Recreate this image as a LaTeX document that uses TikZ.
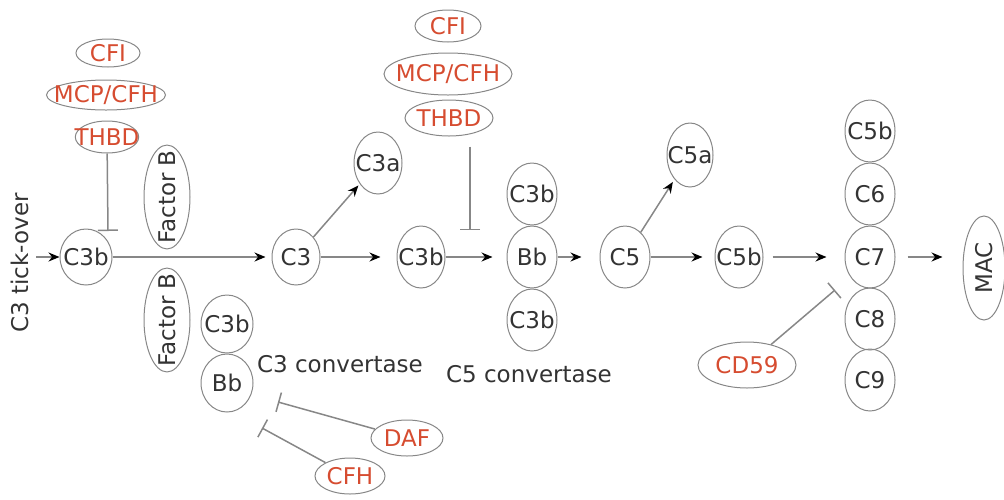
\documentclass[tikz,border=0pt]{standalone}
\usepackage{fontspec}
\setmainfont{DejaVu Sans}
\usepackage{tikz}
\usetikzlibrary{shapes,arrows.meta}
\definecolor{regred}{RGB}{214,76,48}
\definecolor{linegray}{RGB}{135,135,135}
\tikzstyle{prot}=[ellipse,draw=linegray,line width=1pt,inner xsep=-10pt,inner ysep=0pt,text=black!80]
\tikzstyle{reg}=[prot,text=regred]
\tikzstyle{arrow}=[-{Stealth[length=11pt,width=9pt,black]},line width=1.5pt,draw=linegray]
\tikzstyle{inhibit}=[-{Bar[width=20pt]},line width=1.5pt,draw=linegray]

\begin{document}
\begin{tikzpicture}[y=-1pt, x=1pt,font=\fontsize{23}{27}\selectfont]

	\useasboundingbox (0,0) rectangle (1004,499);

	%tick-over
	\node[text=black!80,rotate=90] (tick) at (20,263) {C3 tick-over};
	\node[prot,minimum width=52pt,minimum height=56pt] (c3b1) at (86,257) {C3b};

	\node[reg,minimum width=64pt,minimum height=28pt] (cfi1) at (108,53) {CFI};
	\node[reg,minimum width=118pt,minimum height=30pt] (mcp1) at (106,95) {MCP/CFH};
	\node[reg,minimum width=62pt,minimum height=32pt] (thbd1) at (107,137) {THBD};
	\coordinate (inh1) at (108,231);

	\node[prot,rotate=90,minimum width=100pt,minimum height=46pt] (fbup) at (167,197) {Factor B};
	\node[prot,rotate=90,minimum width=100pt,minimum height=46pt] (fblo) at (167,320) {Factor B};

	% C3 convertase
	\node[prot,minimum width=52pt,minimum height=58pt] (c3bcv) at (227,324) {C3b};
	\node[prot,minimum width=52pt,minimum height=58pt] (bbcv) at (227,383) {Bb};
	\node[text=black!80] (cv3) at (340,364) {C3 convertase};
	\node[reg,minimum width=72pt,minimum height=36pt] (daf) at (407,438) {DAF};
	\node[reg,minimum width=70pt,minimum height=36pt] (cfh) at (350,476) {CFH};
	\coordinate (inhdaf) at (278,402);
	\coordinate (inhcfh) at (262,428);

	\node[prot,minimum width=48pt,minimum height=56pt] (c3) at (296,257) {C3};
	\node[prot,minimum width=48pt,minimum height=62pt] (c3a) at (378,163) {C3a};
	\node[prot,minimum width=48pt,minimum height=62pt] (c3b2) at (421,257) {C3b};

	\node[reg,minimum width=66pt,minimum height=32pt] (cfi2) at (448,26) {CFI};
	\node[reg,minimum width=128pt,minimum height=42pt] (mcp2) at (448,74) {MCP/CFH};
	\node[reg,minimum width=88pt,minimum height=36pt] (thbd2) at (449,118) {THBD};
	\coordinate (inh2) at (470,230);

	% C5 convertase
	\node[prot,minimum width=50pt,minimum height=62pt] (c3bup) at (532,194) {C3b};
	\node[prot,minimum width=50pt,minimum height=62pt] (bb) at (532,257) {Bb};
	\node[prot,minimum width=50pt,minimum height=62pt] (c3bdn) at (532,320) {C3b};
	\node[text=black!80] (cv5) at (529,374) {C5 convertase};

	\node[prot,minimum width=50pt,minimum height=62pt] (c5) at (625,257) {C5};
	\node[prot,minimum width=46pt,minimum height=64pt] (c5a) at (690,155) {C5a};
	\node[prot,minimum width=48pt,minimum height=62pt] (c5b) at (739,257) {C5b};

	% MAC
	\node[prot,minimum width=50pt,minimum height=62pt] (c5bm) at (870,131) {C5b};
	\node[prot,minimum width=50pt,minimum height=62pt] (c6) at (870,194) {C6};
	\node[prot,minimum width=50pt,minimum height=62pt] (c7) at (870,257) {C7};
	\node[prot,minimum width=50pt,minimum height=62pt] (c8) at (870,319) {C8};
	\node[prot,minimum width=50pt,minimum height=62pt] (c9) at (870,380) {C9};
	\node[prot,rotate=90,minimum width=104pt,minimum height=42pt] (mac) at (984,268) {MAC};
	\node[reg,minimum width=98pt,minimum height=46pt] (cd59) at (747,365) {CD59};
	\coordinate (inhcd) at (835,290);

	%arrows
	\draw[arrow,shorten <=4pt] (tick.south |- c3b1) -- (c3b1);
	\draw[arrow,shorten >=6pt] (c3b1) -- (c3);
	\draw[arrow,shorten >=2pt] (c3) -- (c3a);
	\draw[arrow,shorten >=16pt] (c3) -- (c3b2);
	\draw[arrow,shorten >=14pt] (c3b2) -- (bb);
	\draw[arrow,shorten >=18pt] (bb) -- (c5);
	\draw[arrow,shorten >=3pt] (c5) -- (c5a);
	\draw[arrow,shorten >=12pt] (c5) -- (c5b);
	\draw[arrow,shorten <=9pt,shorten >=18pt] (c5b) -- (c7);
	\draw[arrow,shorten <=12pt,shorten >=20pt] (c7.east) -- (c7.east -| mac.north);

	%inhibition
	\draw[inhibit] (thbd1) -- (inh1);
	\draw[inhibit,shorten <=10pt] (inh2 |- thbd2.south) -- (inh2);
	\draw[inhibit] (daf) -- (inhdaf);
	\draw[inhibit] (cfh) -- (inhcfh);
	\draw[inhibit] (cd59) -- (inhcd);
\end{tikzpicture}
\end{document}
